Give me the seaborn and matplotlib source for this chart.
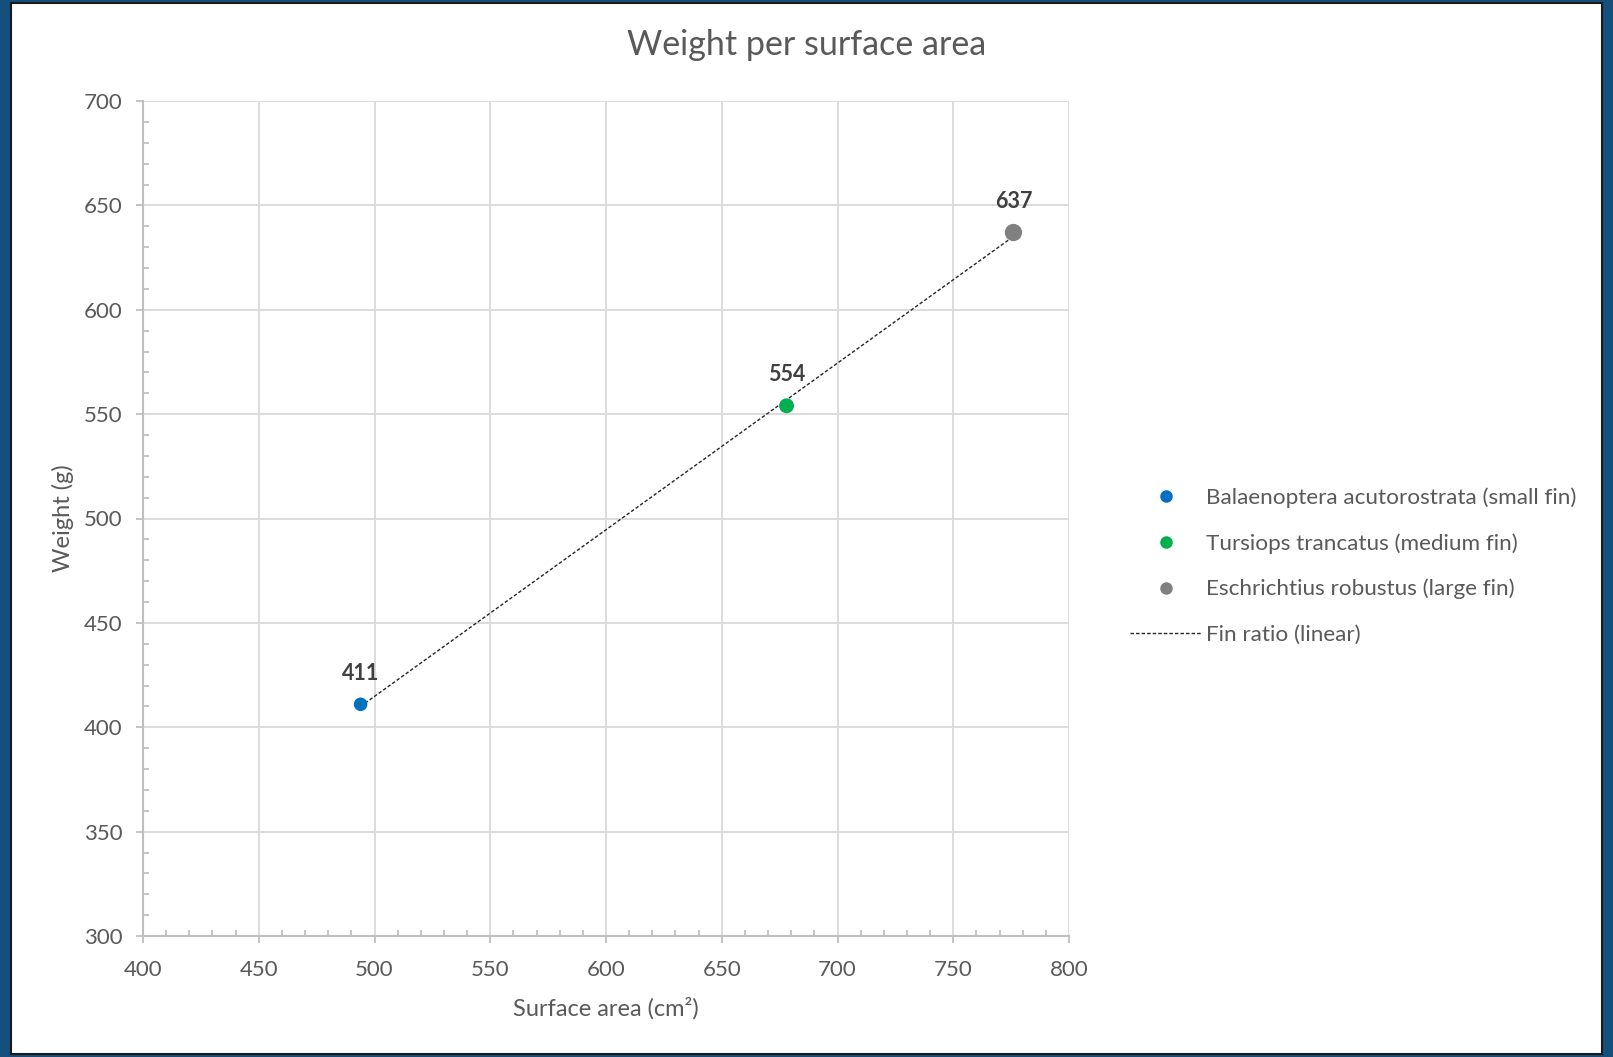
import numpy as np
import pandas as pd
import matplotlib
matplotlib.use("Agg")
import matplotlib.pyplot as plt
import seaborn as sns
from matplotlib.lines import Line2D
from matplotlib.patches import Rectangle
from matplotlib.ticker import MultipleLocator

# --- data ---
species = ["Balaenoptera acutorostrata (small fin)",
           "Tursiops trancatus (medium fin)",
           "Eschrichtius robustus (large fin)"]
surface_area = [494, 678, 776]
weight = [411, 554, 637]
colors = ["#0070C0", "#00B050", "#808080"]
marker_sizes = [95, 115, 155]

df = pd.DataFrame({"species": species, "area": surface_area, "weight": weight})

sns.set_style("white")
plt.rcParams["font.family"] = ["Lato", "DejaVu Sans"]

TXT = "#595959"
AX = "#bfbfbf"
GRID = "#d9d9d9"

fig = plt.figure(figsize=(16.13, 10.57), dpi=100)
fig.patch.set_facecolor("#154f7c")
# white chart area with thin dark frame
fig.patches.append(Rectangle((11 / 1613, 1 - 1054 / 1057), 1591 / 1613, 1051 / 1057,
                             transform=fig.transFigure, facecolor="white",
                             edgecolor="#1a1a1a", linewidth=1.5, zorder=-5))

ax = fig.add_axes([143 / 1613, 1 - 936 / 1057, 926 / 1613, 835 / 1057])
ax.set_zorder(2)
ax.set_facecolor("white")

# trendline (linear fit over the data range)
sns.regplot(data=df, x="area", y="weight", scatter=False, ci=None, truncate=True,
            ax=ax, line_kws=dict(color="#262626", lw=1.0, ls=(0, (2.5, 1.5)), zorder=3))

for i, row in df.iterrows():
    sns.scatterplot(x=[row["area"]], y=[row["weight"]], ax=ax, color=colors[i],
                    s=marker_sizes[i], edgecolor="none", zorder=4, legend=False)
    ax.annotate(f"{row['weight']}", (row["area"], row["weight"]), xytext=(0, 22.5),
                textcoords="offset points", ha="center", va="center",
                fontsize=15.5, fontweight="bold", color="#404040")

ax.set_xlim(400, 800)
ax.set_ylim(300, 700)
ax.xaxis.set_major_locator(MultipleLocator(50))
ax.xaxis.set_minor_locator(MultipleLocator(10))
ax.yaxis.set_major_locator(MultipleLocator(50))
ax.yaxis.set_minor_locator(MultipleLocator(10))
ax.grid(True, which="major", color=GRID, lw=1.3, zorder=0)
ax.set_axisbelow(True)

for s in ["top", "right"]:
    ax.spines[s].set_visible(False)
for s in ["left", "bottom"]:
    ax.spines[s].set_color(AX)
    ax.spines[s].set_linewidth(1.5)

ax.tick_params(which="major", direction="out", length=5, width=1.3, color=AX,
               labelsize=16, labelcolor=TXT, left=True, bottom=True)
ax.tick_params(axis="x", which="major", pad=12.5)
ax.tick_params(axis="y", which="major", pad=9.5)
ax.tick_params(which="minor", direction="in", length=4.5, width=1.3, color=AX,
               left=True, bottom=True)

ax.set_xlabel("Surface area (cm²)", fontsize=17, color=TXT, labelpad=12)
ax.set_ylabel("Weight (g)", fontsize=17, color=TXT, labelpad=7)

fig.text(0.5, 1 - 45 / 1057, "Weight per surface area", ha="center", va="center",
         fontsize=24.5, color=TXT)

handles = [Line2D([], [], marker="o", ls="none", color=c, markersize=9, markeredgewidth=0)
           for c in colors]
handles.append(Line2D([], [], color="#262626", lw=1.0, ls=(0, (2.5, 1.5))))
labels = species + ["Fin ratio (linear)"]
leg = fig.legend(handles, labels, loc="center left",
                 bbox_to_anchor=(1110 / 1613, 1 - 566 / 1057), frameon=False,
                 fontsize=16.2, labelspacing=1.12, handlelength=3.15, handletextpad=0.22)
for t in leg.get_texts():
    t.set_color(TXT)

fig.savefig("out.png", dpi=100, facecolor=fig.get_facecolor())
